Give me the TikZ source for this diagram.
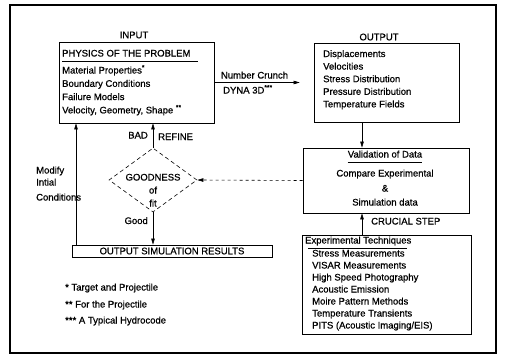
\documentclass[tikz,border=0pt]{standalone}
\usepackage{fontspec}
\setmainfont{Liberation Sans}[FakeBold=0.7]
\usetikzlibrary{arrows.meta}
\usetikzlibrary{shapes.geometric}

\tikzset{
  txt/.style={font=\fontsize{9.5}{11}\selectfont, inner sep=0pt},
  box/.style={draw, line width=0.7pt, inner sep=0pt},
  arr/.style={-{Triangle[length=6pt,width=3.5pt]}, line width=0.6pt},
  uline/.style={line width=0.6pt},
}

\begin{document}
\begin{tikzpicture}[x=1pt,y=-1pt]

            \useasboundingbox (0,0) rectangle (508,356);
            \draw[line width=1.5pt] (10,5) rectangle (496,353);

            % boxes
            \path   (136.5,82.5) node (inbox) [box,minimum width=155pt,minimum height=81pt] {}
                    (386.5,82.5) node (outbox) [box,minimum width=145pt,minimum height=79pt] {}
                    (386,180.5) node (valbox) [box,minimum width=166pt,minimum height=65pt] {}
                    (386.5,284.5) node (expbox) [box,minimum width=169pt,minimum height=99pt] {}
                    (172,251) node (resbox) [box,txt,minimum width=200pt,minimum height=12pt] {OUTPUT SIMULATION RESULTS}
                    (153,180) node (fit) [diamond,draw,dash pattern=on 4pt off 3pt,line width=0.6pt,minimum width=88pt,minimum height=64pt,inner sep=0pt] {};

            % box titles
            \path   (134,35) node (inlbl) [txt] {INPUT}
                    (379,37) node (outlbl) [txt] {OUTPUT};

            % input
            \path (62,56.5) node (physhead) [txt,anchor=base west] {PHYSICS OF THE PROBLEM};
            \draw[uline] ([yshift=-4.5pt]physhead.base west) -- ([yshift=-4.5pt,xshift=7pt]physhead.base east);
            \foreach \t [count=\i] in {{Material Properties\textsuperscript{*}}, Boundary Conditions, Failure Models, {Velocity, Geometry, Shape \textsuperscript{**}}}
                \path (62,{60.2+13.3*\i}) node (phys\i) [txt,anchor=base west] {\t};

            % output
            \foreach \t [count=\i] in {Displacements, Velocities, Stress Distribution, Pressure Distribution, Temperature Fields}
                \path (323,{44.4+12.6*\i}) node (out\i) [txt,anchor=base west] {\t};

            % validation
            \path   (385,157.5) node (valhead) [txt,anchor=base] {Validation of Data}
                    (385,176.5) node (cmp1) [txt,anchor=base] {Compare Experimental}
                    (385,191.5) node (cmp2) [txt,anchor=base] {\&}
                    (385,205.5) node (cmp3) [txt,anchor=base] {Simulation data};
            \draw[uline] ([yshift=-4.5pt]valhead.base west) -- ([yshift=-4.5pt]valhead.base east);

            % experiments
            \path (305,243.5) node (exphead) [txt,anchor=base west] {Experimental Techniques};
            \draw[uline] ([yshift=-4.5pt,xshift=3pt]exphead.base west) -- ([yshift=-4.5pt,xshift=-5pt]exphead.base east);
            \foreach \t [count=\i] in {Stress Measurements, VISAR Measurements, High Speed Photography, Acoustic Emission, Moire Pattern Methods, Temperature Transients, PITS (Acoustic Imaging/EIS)}
                \path (312,{244.5+12*\i}) node (exp\i) [txt,anchor=base west] {\t};

            % goodness of fit
            \path   (153,180.5) node (good1) [txt,anchor=base] {GOODNESS}
                    (153,193.5) node (good2) [txt,anchor=base] {of}
                    (153,206.5) node (good3) [txt,anchor=base] {fit};

            % connector labels
            \path   (254.5,78.5) node (crunch) [txt,anchor=base] {Number Crunch}
                    (223,93.5) node (dyna) [txt,anchor=base west] {DYNA 3D\textsuperscript{***}}
                    (148,138.5) node (bad) [txt,anchor=base east] {BAD}
                    (158,140) node (refine) [txt,anchor=base west] {REFINE}
                    (148,224) node (goodlbl) [txt,anchor=base east] {Good}
                    (371,224.5) node (crucial) [txt,anchor=base west] {CRUCIAL STEP}
                    (36,173.5) node (mod1) [txt,anchor=base west] {Modify}
                    (36,185.5) node (mod2) [txt,anchor=base west] {Intial}
                    (36,200.5) node (mod3) [txt,anchor=base west] {Conditions};

            % footnotes
            \path   (65,290.5) node (note1) [txt,anchor=base west] {* Target and Projectile}
                    (65,307.5) node (note2) [txt,anchor=base west] {** For the Projectile}
                    (65,323.5) node (note3) [txt,anchor=base west] {*** A Typical Hydrocode};

            % connectors
            \coordinate (modfoot) at (76,245);
            \draw[arr] (inbox.east) -- ([xshift=-14pt]outbox.west);
            \draw[arr] ([xshift=-24.5pt]outbox.south) -- ([xshift=-24pt]valbox.north);
            \draw[arr] ([xshift=-24.5pt]expbox.north) -- ([xshift=-24pt]valbox.south);
            \draw[arr,dashed] (valbox.west) -- (fit.east);
            \draw[arr] (fit.north) -- (fit.north |- inbox.south);
            \draw[arr] (fit.south) -- (fit.south |- resbox.north);
            \draw[arr] (modfoot) -- (modfoot |- inbox.south);

\end{tikzpicture}
\end{document}
